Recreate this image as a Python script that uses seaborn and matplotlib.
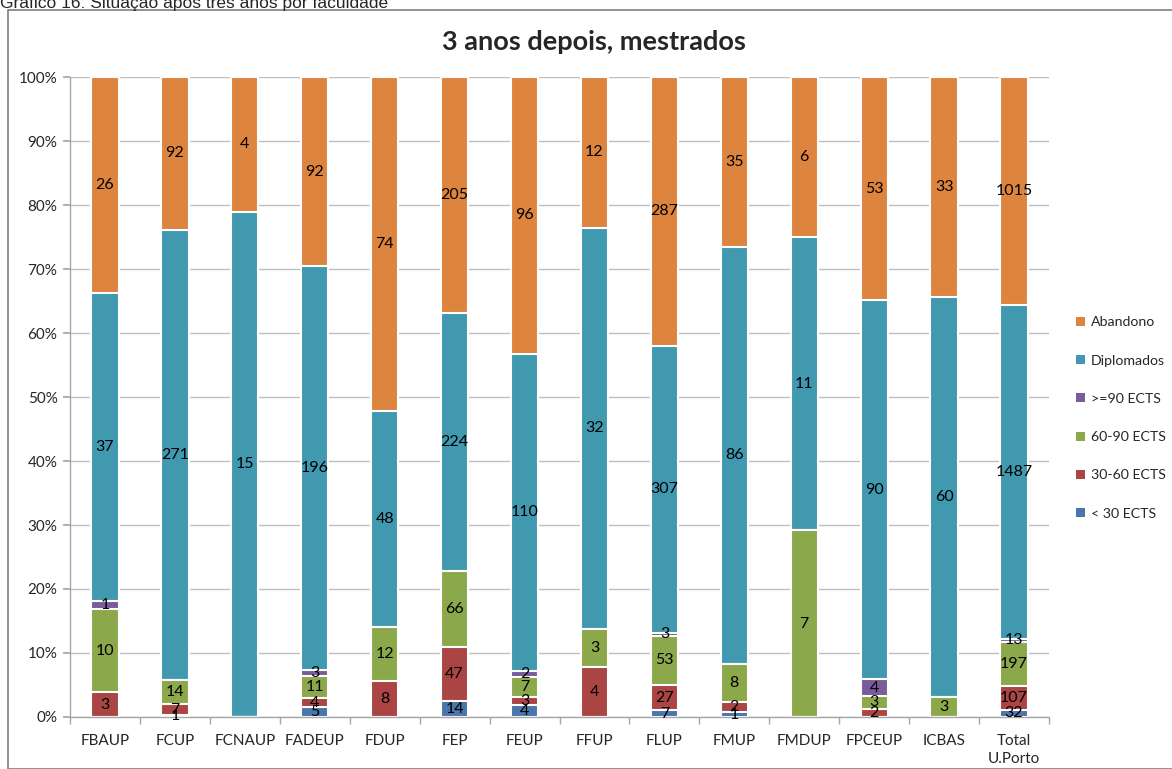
import numpy as np
import pandas as pd
import seaborn as sns
import matplotlib.pyplot as plt
from matplotlib.patches import Rectangle, Patch
from matplotlib.ticker import PercentFormatter, MultipleLocator

# %%
faculdades = ["FBAUP", "FCUP", "FCNAUP", "FADEUP", "FDUP", "FEP", "FEUP",
              "FFUP", "FLUP", "FMUP", "FMDUP", "FPCEUP", "ICBAS", "Total\nU.Porto"]
menos_30 = [0, 1, 0, 5, 0, 14, 4, 0, 7, 1, 0, 0, 0, 32]
ects_30_60 = [3, 7, 0, 4, 8, 47, 3, 4, 27, 2, 0, 2, 0, 107]
ects_60_90 = [10, 14, 0, 11, 12, 66, 7, 3, 53, 8, 7, 3, 3, 197]
ects_90 = [1, 0, 0, 3, 0, 0, 2, 0, 3, 0, 0, 4, 0, 13]
diplomados = [37, 271, 15, 196, 48, 224, 110, 32, 307, 86, 11, 90, 60, 1487]
abandono = [26, 92, 4, 92, 74, 205, 96, 12, 287, 35, 6, 53, 33, 1015]

series = ["< 30 ECTS", "30-60 ECTS", "60-90 ECTS", ">=90 ECTS", "Diplomados", "Abandono"]
colors = ["#4A76AC", "#AA4543", "#8BA84B", "#7A5C9C", "#4199B0", "#DD843F"]

counts = pd.DataFrame(
    dict(zip(series, [menos_30, ects_30_60, ects_60_90, ects_90, diplomados, abandono])),
    index=faculdades)
pct = counts.div(counts.sum(axis=1), axis=0) * 100
cum = pct.cumsum(axis=1)

# %%
sns.set_theme(style="white")
plt.rcParams["font.family"] = ["Lato", "DejaVu Sans"]

fig = plt.figure(figsize=(11.72, 7.69), dpi=100)
ax = fig.add_axes([70 / 1172, 1 - 717 / 769, (1049 - 70) / 1172, (717 - 77) / 769])

# stacked bars: draw cumulative totals from top series down
for name, color in reversed(list(zip(series, colors))):
    df = pd.DataFrame({"fac": faculdades, "val": cum[name].values})
    sns.barplot(data=df, x="fac", y="val", color=color, width=0.39,
                edgecolor="white", linewidth=1.5, saturation=1, ax=ax)

# value labels
for i, fac in enumerate(faculdades):
    for name in series:
        n = counts.loc[fac, name]
        if n == 0:
            continue
        y = cum.loc[fac, name] - pct.loc[fac, name] / 2
        ax.text(i, y, str(n), ha="center", va="center", fontsize=11.5, color="black")

ax.set_ylim(0, 100)
ax.set_xlim(-0.5, len(faculdades) - 0.5)
ax.yaxis.set_major_locator(MultipleLocator(10))
ax.yaxis.set_major_formatter(PercentFormatter(decimals=0))
ax.yaxis.grid(True, color="#BEBEBE", linewidth=1)
ax.set_axisbelow(True)
ax.set_xlabel("")
ax.set_ylabel("")
for s in ["top", "right"]:
    ax.spines[s].set_visible(False)
for s in ["left", "bottom"]:
    ax.spines[s].set_color("#A6A6A6")
    ax.spines[s].set_linewidth(1)
ax.tick_params(axis="y", left=True, length=5, color="#A6A6A6", labelsize=11, pad=4)
ax.tick_params(axis="x", bottom=False, labelsize=11, pad=6)
for lbl in ax.get_xticklabels():
    lbl.set_linespacing(1.4)
ax.set_xticks(np.arange(-0.5, len(faculdades), 1), minor=True)
ax.tick_params(axis="x", which="minor", bottom=True, length=5, color="#A6A6A6")

# legend
handles = [Patch(facecolor=c, edgecolor="none") for c in colors]
fig.legend(handles[::-1], series[::-1], loc="center left",
           bbox_to_anchor=(1076 / 1172, 1 - 418 / 769), frameon=False,
           borderpad=0, borderaxespad=0,
           fontsize=10.2, handlelength=0.6, handleheight=0.6, handletextpad=0.45,
           labelspacing=1.85)

# title, caption and chart frame
fig.text(594 / 1172, 1 - 42 / 769, "3 anos depois, mestrados", ha="center", va="center",
         fontsize=19.5, fontweight="bold")
fig.text(0.0, 1 - 8 / 769, "Gráfico 16: Situação após três anos por faculdade",
         ha="left", va="baseline", fontsize=12.5, family=["Liberation Sans", "DejaVu Sans"])
fig.add_artist(Rectangle((8 / 1172, 0), 1, 1 - 10 / 769, transform=fig.transFigure,
                         fill=False, edgecolor="#7F7F7F", linewidth=1.2))

fig.savefig("out.png", dpi=100)
